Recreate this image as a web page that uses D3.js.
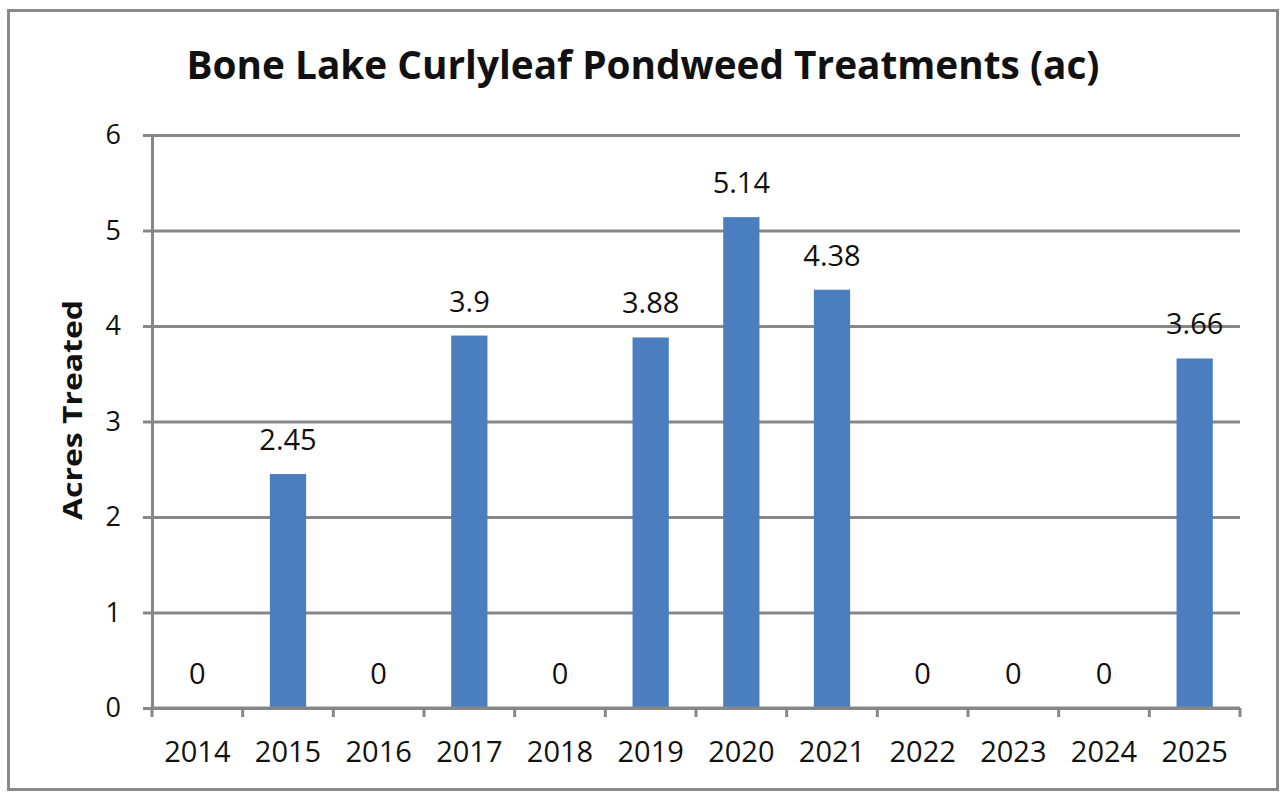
<!DOCTYPE html>
<html>
<head>
<meta charset="utf-8">
<script src="https://cdn.jsdelivr.net/npm/d3@7"></script>
<style>
  body { margin: 0; background: #fff; }
  svg text { font-family: "Open Sans", sans-serif; fill: #111; }
</style>
</head>
<body>
<svg id="chart" width="1283" height="792"></svg>
<script>
const years = ['2014', '2015', '2016', '2017', '2018', '2019', '2020', '2021', '2022', '2023', '2024', '2025'];
const acres = [0, 2.45, 0, 3.9, 0, 3.88, 5.14, 4.38, 0, 0, 0, 3.66];
const yTicks = [0, 1, 2, 3, 4, 5, 6];
const chartTitle = 'Bone Lake Curlyleaf Pondweed Treatments (ac)';
const yTitle = 'Acres Treated';

const svg = d3.select('#chart');
const padding = { top: 135, right: 43, bottom: 84, left: 152 };
const width = 1283, height = 792;
const plotW = width - padding.left - padding.right;
const plotH = height - padding.top - padding.bottom;

// outer frame
svg.append('rect')
  .attr('x', 8.5).attr('y', 10.5)
  .attr('width', 1269).attr('height', 779)
  .attr('fill', 'none')
  .attr('stroke', '#8a8a8a')
  .attr('stroke-width', 3);

const x = d3.scaleBand()
  .domain(years)
  .range([0, plotW])
  .paddingInner(0.6)
  .paddingOuter(0.3);

const y = d3.scaleLinear()
  .domain([0, 6])
  .range([plotH, 0]);

const g = svg.append('g')
  .attr('transform', `translate(${padding.left},${padding.top})`);

// gridlines
g.append('g')
  .call(d3.axisLeft(y).tickValues(yTicks).tickSize(-plotW).tickFormat(''))
  .call(a => a.select('.domain').remove())
  .call(a => a.selectAll('line').attr('stroke', '#878787').attr('stroke-width', 3));

// bars
g.selectAll('rect.bar')
  .data(acres)
  .enter()
  .append('rect')
  .attr('class', 'bar')
  .attr('x', (d, i) => x(years[i]))
  .attr('width', x.bandwidth())
  .attr('y', d => y(d))
  .attr('height', d => plotH - y(d))
  .attr('fill', '#4a7ebf');

// y axis
g.append('g')
  .call(d3.axisLeft(y).tickValues(yTicks).tickFormat(d3.format('d')).tickSize(9).tickPadding(22))
  .call(a => a.select('.domain').attr('stroke', '#878787').attr('stroke-width', 3))
  .call(a => a.selectAll('line').attr('stroke', '#878787').attr('stroke-width', 3))
  .call(a => a.selectAll('text').attr('font-size', 27).attr('font-family', 'Open Sans').attr('fill', '#111'));

// x axis: ticks between categories
const boundaries = d3.range(years.length + 1).map(i => i * plotW / years.length);
const xg = g.append('g').attr('transform', `translate(0,${plotH})`);
xg.append('line')
  .attr('x1', 0).attr('x2', plotW)
  .attr('stroke', '#878787').attr('stroke-width', 3);
xg.selectAll('line.tick')
  .data(boundaries)
  .enter()
  .append('line')
  .attr('class', 'tick')
  .attr('x1', d => d).attr('x2', d => d)
  .attr('y1', 0).attr('y2', 9)
  .attr('stroke', '#878787').attr('stroke-width', 3);
xg.selectAll('text')
  .data(years)
  .enter()
  .append('text')
  .attr('x', d => x(d) + x.bandwidth() / 2)
  .attr('y', 54)
  .attr('text-anchor', 'middle')
  .attr('font-size', 29)
  .text(d => d);

// data labels
g.selectAll('text.val')
  .data(acres)
  .enter()
  .append('text')
  .attr('class', 'val')
  .attr('x', (d, i) => x(years[i]) + x.bandwidth() / 2)
  .attr('y', d => y(d) - 24)
  .attr('text-anchor', 'middle')
  .attr('font-size', 29)
  .text(d => d);

// title
svg.append('text')
  .attr('x', 643)
  .attr('y', 79)
  .attr('text-anchor', 'middle')
  .attr('font-family', 'Lato, "Open Sans", sans-serif')
  .attr('font-weight', 'bold')
  .attr('font-size', 40)
  .attr('textLength', 913)
  .attr('lengthAdjust', 'spacingAndGlyphs')
  .text(chartTitle);

// y axis title
svg.append('text')
  .attr('transform', 'translate(82,410) rotate(-90)')
  .attr('text-anchor', 'middle')
  .attr('font-family', '"Liberation Sans Narrow", "Liberation Sans", sans-serif')
  .attr('font-weight', 'bold')
  .attr('font-size', 27)
  .attr('textLength', 220)
  .attr('lengthAdjust', 'spacingAndGlyphs')
  .text(yTitle);
</script>
</body>
</html>
